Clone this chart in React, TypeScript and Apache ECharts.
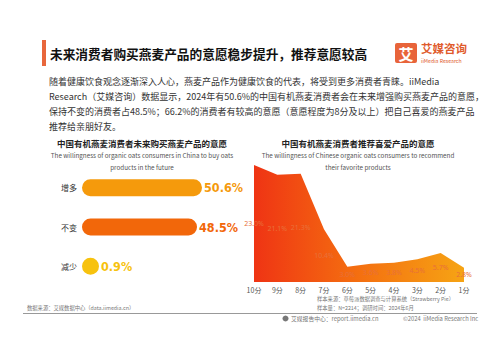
import React, { useEffect, useRef } from 'react';
import * as echarts from 'echarts';

const buyCategories = ['增多', '不变', '减少'];
const buyValues = [50.6, 48.5, 0.9];
const buyColors = ['#f59a0c', '#f2670a', '#f7c20e'];

const scoreCategories = ['10分', '9分', '8分', '7分', '6分', '5分', '4分', '3分', '2分', '1分'];
const scoreValues = [23.0, 21.1, 21.3, 10.4, 3.0, 3.6, 3.8, 4.5, 5.7, 2.8];

const titleText = '未来消费者购买燕麦产品的意愿稳步提升，推荐意愿较高';
const bodyLines = [
  '随着健康饮食观念逐渐深入人心，燕麦产品作为健康饮食的代表，将受到更多消费者青睐。iiMedia',
  'Research（艾媒咨询）数据显示，2024年有50.6%的中国有机燕麦消费者会在未来增强购买燕麦产品的意愿，',
  '保持不变的消费者占48.5%；66.2%的消费者有较高的意愿（意愿程度为8分及以上）把自己喜爱的燕麦产品',
  '推荐给亲朋好友。',
];
const leftTitle = '中国有机燕麦消费者未来购买燕麦产品的意愿';
const leftSub = ['The willingness of organic oats consumers in China to buy oats', 'products in the future'];
const rightTitle = '中国有机燕麦消费者推荐喜爱产品的意愿';
const rightSub = ['The willingness of Chinese organic oats consumers to recommend', 'their favorite products'];

const CJK = '"Noto Sans CJK SC", "Noto Sans", sans-serif';

export default function App() {
  const ref = useRef<HTMLDivElement>(null);
  useEffect(() => {
    if (!ref.current) return;
    const chart = echarts.init(ref.current, undefined, { renderer: 'svg' });
    const txt = (text: string, x: number, y: number, size: number, fill: string, extra: any = {}) => ({
      type: 'text',
      x,
      y,
      silent: true,
      style: {
        text,
        fontSize: size,
        fontFamily: CJK,
        fill,
        verticalAlign: 'middle',
        align: 'left',
        ...extra,
      },
    });
    const graphic: any[] = [
      { type: 'rect', shape: { x: 42, y: 40, width: 4, height: 26 }, style: { fill: '#e8673c' } },
      txt(titleText, 50, 53, 12.7, '#111', { fontWeight: 'bold' }),
      { type: 'rect', shape: { x: 395, y: 43, width: 22, height: 20, r: 2 }, style: { fill: '#e8643a' } },
      txt('艾', 406, 53.5, 15, '#fff', { fontWeight: 'bold', align: 'center' }),
      txt('艾媒咨询', 421, 48, 11.5, '#e05b2c', { fontWeight: 'bold' }),
      txt('iiMedia Research', 421, 60, 5.2, '#e05b2c'),
      ...bodyLines.map((l, i) => txt(l, 49, 81 + i * 15.3, 9, '#333')),
      txt(leftTitle, 142, 143, 8.5, '#222', { fontWeight: 'bold', align: 'center' }),
      txt(leftSub[0], 142, 155, 6.3, '#555', { align: 'center' }),
      txt(leftSub[1], 142, 167, 6.3, '#555', { align: 'center' }),
      txt(rightTitle, 358, 143, 8.5, '#222', { fontWeight: 'bold', align: 'center' }),
      txt(rightSub[0], 358, 155, 6.3, '#555', { align: 'center' }),
      txt(rightSub[1], 358, 167, 6.3, '#555', { align: 'center' }),
      txt('样本来源：草莓派数据调查与计算系统（Strawberry Pie）', 317, 299, 5.3, '#777'),
      txt('样本量：N=2214；调研时间：2024年6月', 317, 308, 5.3, '#777'),
      txt('数据来源：艾媒数据中心（data.iimedia.cn）', 27, 308, 5.3, '#777'),
      { type: 'line', shape: { x1: 23, y1: 313.5, x2: 477, y2: 313.5 }, style: { stroke: '#999', lineWidth: 1 } },
      { type: 'circle', shape: { cx: 285.5, cy: 318.5, r: 3 }, style: { fill: '#777' } },
      txt('艾媒报告中心：report.iimedia.cn', 291, 318.5, 5.8, '#777'),
      txt('©2024  iiMedia Research Inc', 403, 318.5, 5.8, '#777'),
    ];

    chart.setOption({
      animation: false,
      backgroundColor: '#fff',
      grid: [
        { left: 82, right: 251, top: 168, bottom: 67 },
        { left: 254, right: 35, top: 160, bottom: 71 },
      ],
      xAxis: [
        { type: 'value', gridIndex: 0, min: 0, max: 70, show: false },
        {
          type: 'category',
          gridIndex: 1,
          data: scoreCategories,
          boundaryGap: false,
          axisLine: { show: false },
          axisTick: { show: false },
          axisLabel: { fontSize: 7, color: '#555', margin: 4, fontFamily: CJK },
        },
      ],
      yAxis: [
        {
          type: 'category',
          gridIndex: 0,
          data: buyCategories,
          inverse: true,
          axisLine: { show: false },
          axisTick: { show: false },
          axisLabel: { fontSize: 8, color: '#333', margin: 5, fontFamily: CJK },
        },
        { type: 'value', gridIndex: 1, min: 0, max: 24, show: false },
      ],
      series: [
        {
          type: 'bar',
          xAxisIndex: 0,
          yAxisIndex: 0,
          barWidth: 17,
          barMinHeight: 17,
          silent: true,
          itemStyle: { borderRadius: 8.5 },
          label: {
            show: true,
            position: 'right',
            distance: 2,
            formatter: (p: any) => `${p.value}%`,
            fontFamily: '"DejaVu Sans Condensed", sans-serif',
            fontWeight: 'bold',
            fontSize: 12.5,
          },
          data: buyValues.map((v, i) => ({
            value: v,
            itemStyle: { color: buyColors[i] },
            label: { color: buyColors[i] },
          })),
        },
        {
          type: 'line',
          xAxisIndex: 1,
          yAxisIndex: 1,
          data: scoreValues,
          symbol: 'none',
          silent: true,
          z: 1,
          lineStyle: { width: 0 },
          areaStyle: {
            opacity: 1,
            color: new echarts.graphic.LinearGradient(0, 0, 1, 0, [
              { offset: 0, color: '#ef3414' },
              { offset: 0.45, color: '#f46a10' },
              { offset: 1, color: '#f6a414' },
            ]),
          },
        },
        {
          type: 'bar',
          xAxisIndex: 1,
          yAxisIndex: 1,
          data: scoreValues,
          barWidth: 1,
          silent: true,
          z: 10,
          itemStyle: { color: 'rgba(0,0,0,0)' },
          label: {
            show: true,
            position: 'inside',
            formatter: (p: any) => `${Number(p.value).toFixed(1)}%`,
            fontSize: 7,
            color: '#e9703a',
            fontFamily: '"Noto Sans", sans-serif',
          },
        },
      ],
      graphic,
    });
    return () => chart.dispose();
  }, []);
  return (
    <div
      ref={ref}
      style={{ position: 'absolute', left: 0, top: 0, width: 499, height: 353, background: '#fff' }}
    />
  );
}
